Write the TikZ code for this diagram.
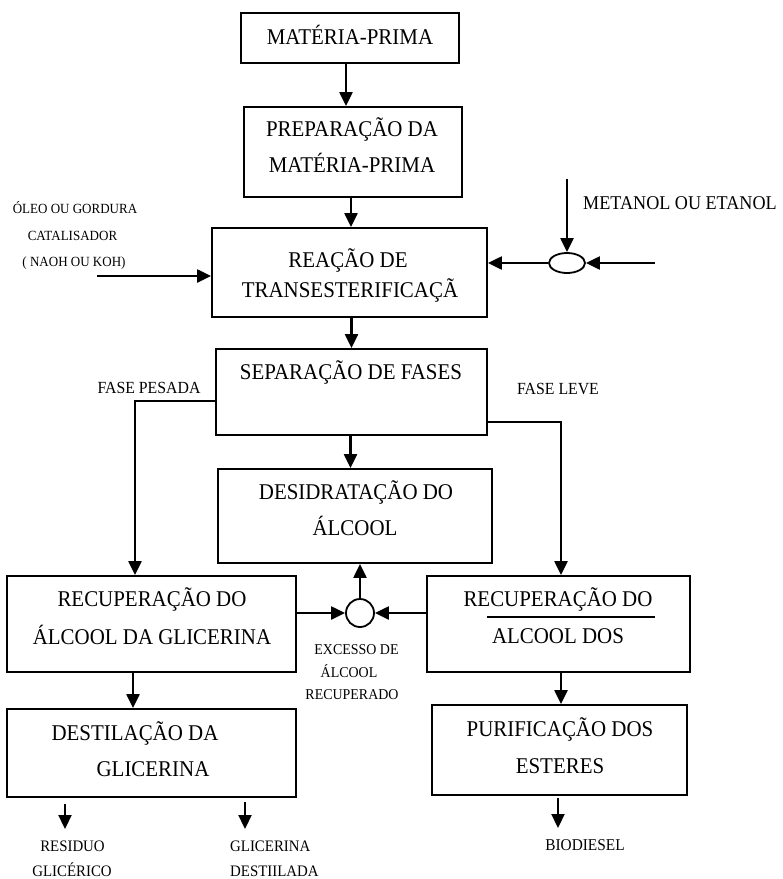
\documentclass[tikz,border=0pt]{standalone}
\usepackage{fontspec}
\setmainfont{Liberation Serif}
\newfontfamily\condfont[FakeStretch=0.93]{Liberation Serif}
\usetikzlibrary{arrows.meta,shapes.geometric}
\begin{document}
\begin{tikzpicture}[x=1pt,y=-1pt,
  boxnode/.style={draw,line width=1.8pt,inner sep=0pt,minimum width=#1},
  mtext/.style={font=\condfont\fontsize{22.5}{25}\selectfont,anchor=base,inner sep=0pt},
  stext/.style={font=\condfont\fontsize{#1}{#1}\selectfont,anchor=base,inner sep=0pt},
  arr/.style={line width=2.2pt,-{Triangle[length=14pt,width=13pt]}},
  plain/.style={line width=2.2pt}]
\useasboundingbox (0,0) rectangle (783,879);
% boxes
\node[boxnode=218pt,minimum height=50pt] (b1) at (350,38) {};
\node[boxnode=218pt,minimum height=90pt] (b2) at (353,152) {};
\node[boxnode=275pt,minimum height=89pt] (b3) at (349.5,272.5) {};
\node[boxnode=271pt,minimum height=86pt] (b4) at (351.5,392) {};
\node[boxnode=274pt,minimum height=94pt] (b5) at (355,516) {};
\node[boxnode=289pt,minimum height=96pt] (b6) at (151.5,624) {};
\node[boxnode=263pt,minimum height=96pt] (b7) at (558.5,624) {};
\node[boxnode=289pt,minimum height=88pt] (b8) at (151.5,753) {};
\node[boxnode=255pt,minimum height=90pt] (b9) at (559.5,750) {};
% box texts
\node[mtext] (t1) at (350,44) {MATÉRIA-PRIMA};
\node[mtext] (t2a) at (352,136) {PREPARAÇÃO DA};
\node[mtext] (t2b) at (352,172) {MATÉRIA-PRIMA};
\node[mtext] (t3a) at (348,267) {REAÇÃO DE};
\node[mtext] (t3b) at (350,297) {TRANSESTERIFICAÇÃ};
\node[mtext] (t4) at (351,379) {SEPARAÇÃO DE FASES};
\node[mtext] (t5a) at (356,499) {DESIDRATAÇÃO DO};
\node[mtext] (t5b) at (355,535) {ÁLCOOL};
\node[mtext] (t6a) at (152,606) {RECUPERAÇÃO DO};
\node[mtext] (t6b) at (152,644) {ÁLCOOL DA GLICERINA};
\node[mtext] (t7a) at (558,606) {RECUPERAÇÃO DO};
\node[mtext] (t7b) at (558,643) {ALCOOL DOS};
\coordinate (ul1) at (487,617);
\coordinate (ul2) at (655,617);
\draw[line width=1.8pt] (ul1) -- (ul2);
\node[mtext] (t8a) at (135,740) {DESTILAÇÃO DA};
\node[mtext] (t8b) at (153,776) {GLICERINA};
\node[mtext] (t9a) at (560,736) {PURIFICAÇÃO DOS};
\node[mtext] (t9b) at (560,773) {ESTERES};
% side labels
\node[stext=14] (l1) at (75,213) {ÓLEO OU GORDURA};
\node[stext=14] (l2) at (72.5,240) {CATALISADOR};
\node[stext=14] (l3) at (74,266) {( NAOH OU KOH)};
\node[stext=19.5] (l4) at (680,209) {METANOL OU ETANOL};
\node[stext=17] (l5) at (149,393) {FASE PESADA};
\node[stext=17] (l6) at (558,394) {FASE LEVE};
\node[stext=15] (l7) at (356.5,654.5) {EXCESSO DE};
\node[stext=15] (l8) at (349,677.5) {ÁLCOOL};
\node[stext=15] (l9) at (352,699.5) {RECUPERADO};
\node[stext=16] (l10) at (72.5,851) {RESIDUO};
\node[stext=16] (l11) at (72,876) {GLICÉRICO};
\node[stext=16,anchor=base west] (l12) at (230,851) {GLICERINA};
\node[stext=16,anchor=base west] (l13) at (230,876) {DESTIILADA};
\node[stext=16.5] (l14) at (585,850) {BIODIESEL};
% main flow
\draw[arr] ([xshift=-4pt]b1.south) -- ([xshift=-4pt]b1.south |- b2.north);
\draw[arr] ([xshift=-2pt]b2.south) -- ([xshift=-2pt]b2.south |- b3.north);
\draw[arr] ([xshift=2pt]b3.south) -- ([xshift=2pt]b3.south |- b4.north);
\draw[arr] ([xshift=-1pt]b4.south) -- ([xshift=-1pt]b4.south |- b5.north);
% inputs to reaction
\coordinate (inL) at (97,276);
\draw[arr] (inL) -- (inL -| b3.west);
\node[draw,ellipse,line width=1.8pt,minimum width=36pt,minimum height=20pt,inner sep=0pt] (ell) at (567,263) {};
\coordinate (inT) at (567,179);
\coordinate (inR) at (655,263);
\draw[arr] (inT) -- (ell.north);
\draw[arr] (inR) -- (ell.east);
\draw[arr] (ell.west) -- (ell.west -| b3.east);
% phases
\coordinate (pL) at (135,401);
\draw[arr] (b4.west |- pL) -- (pL) -- (pL |- b6.north);
\coordinate (pR) at (561,422);
\draw[arr] (b4.east |- pR) -- (pR) -- (pR |- b7.north);
% alcohol recovery
\node[draw,circle,line width=1.8pt,minimum size=28pt,inner sep=0pt] (circ) at (360,613) {};
\draw[arr] (b6.east |- circ) -- (circ.west);
\draw[arr] (b7.west |- circ) -- (circ.east);
\draw[arr] (circ.north) -- (circ.north |- b5.south);
% down to lower boxes
\draw[arr] ([xshift=-18.5pt]b6.south) -- ([xshift=-18.5pt]b6.south |- b8.north);
\draw[arr] ([xshift=2.5pt]b7.south) -- ([xshift=2.5pt]b7.south |- b9.north);
% outputs
\coordinate (o1a) at (65,804);
\coordinate (o1b) at (65,829);
\coordinate (o2a) at (245,802);
\coordinate (o2b) at (245,829);
\coordinate (o3a) at (558,798);
\coordinate (o3b) at (558,828);
\draw[arr] (o1a) -- (o1b);
\draw[arr] (o2a) -- (o2b);
\draw[arr] (o3a) -- (o3b);
\end{tikzpicture}
\end{document}
